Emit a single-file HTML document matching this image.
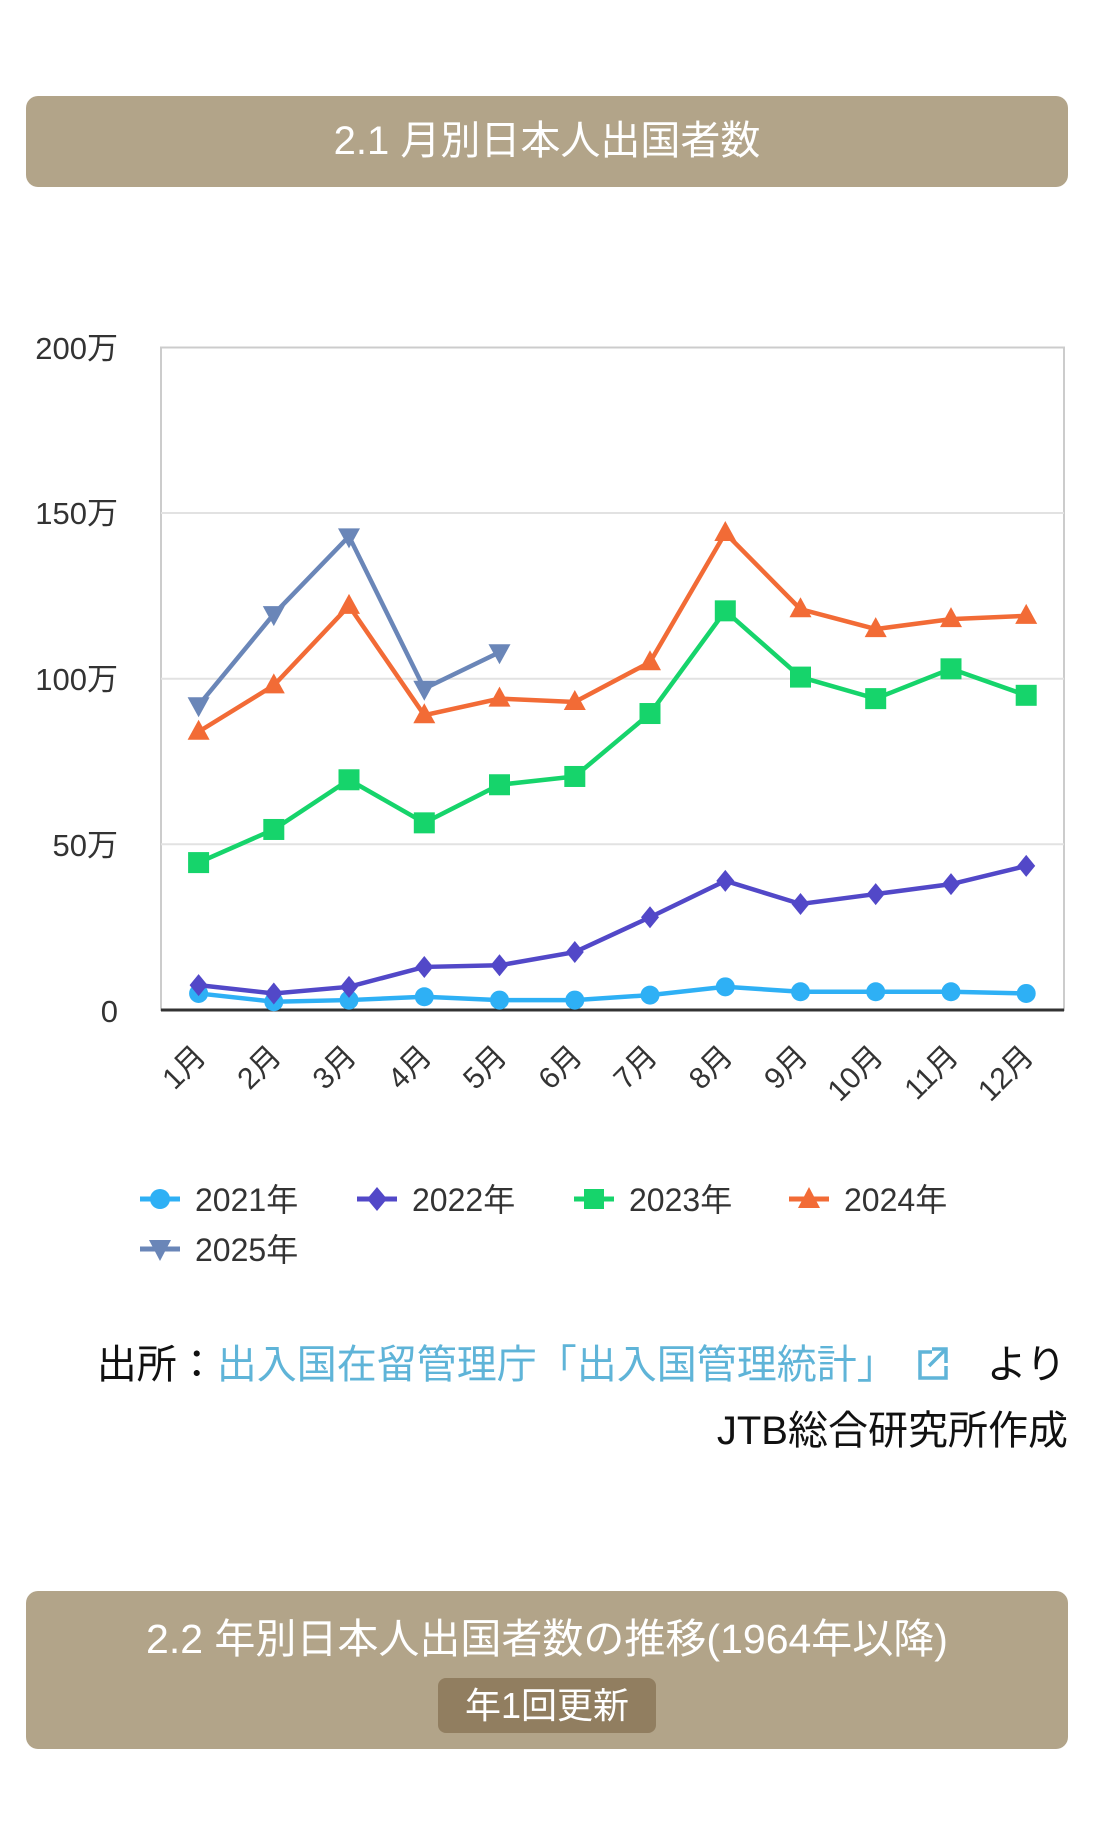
<!DOCTYPE html>
<html><head><meta charset="utf-8"><style>
html,body{margin:0;padding:0;background:#fff;width:1096px;height:1824px;overflow:hidden;font-family:"Liberation Sans","Noto Sans CJK JP",sans-serif;}
.hd{position:absolute;left:26px;width:1042px;background:#b2a489;border-radius:12px;color:#fff;text-align:center;}
</style></head><body>
<div class="hd" style="top:96px;height:91px;line-height:91px;font-size:40px;">2.1 月別日本人出国者数</div>
<svg width="1096" height="1824" style="position:absolute;left:0;top:0" xmlns="http://www.w3.org/2000/svg" font-family="Liberation Sans, Noto Sans CJK JP, sans-serif">
<rect x="161" y="347.5" width="903" height="662.5" fill="none" stroke="#ccc" stroke-width="2"/>
<g stroke="#e2e2e2" stroke-width="2"><line x1="161" x2="1064" y1="513" y2="513"/><line x1="161" x2="1064" y1="678.7" y2="678.7"/><line x1="161" x2="1064" y1="844.3" y2="844.3"/></g>
<line x1="161" x2="1064" y1="1010" y2="1010" stroke="#333" stroke-width="3"/>
<g font-size="31" fill="#333" text-anchor="end">
<text x="118" y="359">200万</text><text x="118" y="524">150万</text><text x="118" y="690">100万</text><text x="118" y="856">50万</text><text x="118" y="1022">0</text>
</g>
<g id="plot"></g>
<g font-size="30" fill="#333" text-anchor="end" id="xl"></g>
<g font-size="32" fill="#333">
<line x1="140" x2="180" y1="1199" y2="1199" stroke="#2eb0f5" stroke-width="5"/><circle cx="160" cy="1199" r="10" fill="#2eb0f5"/><text x="195" y="1211">2021年</text>
<line x1="357" x2="397" y1="1199" y2="1199" stroke="#5248c8" stroke-width="5"/><path d="M377 1187 L387 1199 L377 1211 L367 1199Z" fill="#5248c8"/><text x="412" y="1211">2022年</text>
<line x1="574" x2="614" y1="1199" y2="1199" stroke="#16d46b" stroke-width="5"/><rect x="584" y="1189" width="20" height="20" fill="#16d46b"/><text x="629" y="1211">2023年</text>
<line x1="789" x2="829" y1="1199" y2="1199" stroke="#f26b36" stroke-width="5"/><path d="M809 1187 L820 1208 L798 1208Z" fill="#f26b36"/><text x="844" y="1211">2024年</text>
<line x1="140" x2="180" y1="1249" y2="1249" stroke="#6a86b8" stroke-width="5"/><path d="M149 1240 L171 1240 L160 1261Z" fill="#6a86b8"/><text x="195" y="1261">2025年</text>
</g>
<g font-size="40">
<text x="1066" y="1378" text-anchor="end"><tspan fill="#111">出所：</tspan><tspan fill="#5fb4d8">出入国在留管理庁「出入国管理統計」</tspan><tspan fill="#111" dx="90">より</tspan></text>
<text x="1068" y="1444" text-anchor="end" fill="#111">JTB総合研究所作成</text>
</g>
<g stroke="#5fb4d8" stroke-width="3.5" fill="none"><path d="M932 1352 h-12 v26 h26 v-12"/><path d="M932 1349 h14 v14 M946 1349 L929 1366"/></g>
</svg>
<div class="hd" style="top:1591px;height:158px;">
<div style="margin-top:24px;font-size:41px;line-height:48px;">2.2 年別日本人出国者数の推移(1964年以降)</div>
<div style="position:absolute;left:412px;top:87px;width:218px;height:55px;line-height:55px;background:#917e60;border-radius:8px;font-size:36px;">年1回更新</div>
</div>
<script>
var X=[198.6,273.8,349,424.3,499.5,574.8,650,725.3,800.5,875.7,951,1026.2];
function Y(v){return 1010-v*3.3125;}
var S=[
["#2eb0f5","c",[5,2.5,3,4,3,3,4.5,7,5.5,5.5,5.5,5]],
["#5248c8","d",[7.5,5,7,13,13.5,17.5,28,39,32,35,38,43.5]],
["#16d46b","s",[44.5,54.5,69.5,56.5,68,70.5,89.5,120.5,100.5,94,103,95]],
["#f26b36","t",[84,98,122,89,94,93,105,144,121,115,118,119]],
["#6a86b8","v",[92,119.5,143,97,108]]];
var h="";
S.forEach(function(s){var p=s[2].map(function(v,i){return X[i]+","+Y(v)}).join(" ");
h+='<polyline points="'+p+'" fill="none" stroke="'+s[0]+'" stroke-width="4.5"/>';
s[2].forEach(function(v,i){var x=X[i],y=Y(v),c=s[0];
if(s[1]=="c")h+='<circle cx="'+x+'" cy="'+y+'" r="9.5" fill="'+c+'"/>';
if(s[1]=="d")h+='<path d="M'+x+' '+(y-11)+' L'+(x+9)+' '+y+' L'+x+' '+(y+11)+' L'+(x-9)+' '+y+'Z" fill="'+c+'"/>';
if(s[1]=="s")h+='<rect x="'+(x-10.5)+'" y="'+(y-10.5)+'" width="21" height="21" fill="'+c+'"/>';
if(s[1]=="t")h+='<path d="M'+x+' '+(y-12)+' L'+(x+11)+' '+(y+8)+' L'+(x-11)+' '+(y+8)+'Z" fill="'+c+'"/>';
if(s[1]=="v")h+='<path d="M'+x+' '+(y+12)+' L'+(x+11)+' '+(y-8)+' L'+(x-11)+' '+(y-8)+'Z" fill="'+c+'"/>';
});});
document.getElementById("plot").innerHTML=h;
var t="";X.forEach(function(x,i){t+='<text transform="translate('+(x+9)+',1058) rotate(-45)">'+(i+1)+'月</text>';});
document.getElementById("xl").innerHTML=t;
</script>
</body></html>
